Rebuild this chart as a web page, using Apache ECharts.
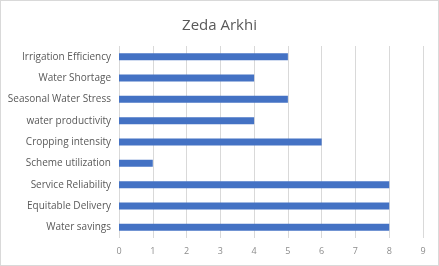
<!DOCTYPE html>
<html>
<head>
<meta charset="utf-8">
<script src="https://cdn.jsdelivr.net/npm/echarts@6/dist/echarts.min.js"></script>
<style>
  html, body { margin: 0; padding: 0; background: #fff; }
  #chart { width: 437px; height: 264px; border: 1px solid #d9d9d9; }
</style>
</head>
<body>
<div id="chart"></div>
<script>
// categories listed top to bottom
var categories = ['Irrigation Efficiency', 'Water Shortage', 'Seasonal Water Stress', 'water productivity',
  'Cropping intensity', 'Scheme utilization', 'Service Reliability', 'Equitable Delivery', 'Water savings'];
var values = [5, 4, 5, 4, 6, 1, 8, 8, 8];

var chart = echarts.init(document.getElementById('chart'));
chart.setOption({
  animation: false,
  title: {
    text: 'Zeda Arkhi',
    left: 'center',
    top: 12,
    textStyle: { fontFamily: 'Open Sans', fontSize: 15, fontWeight: 'normal', color: '#595959' }
  },
  grid: { left: 118, right: 15, top: 45, bottom: 27 },
  xAxis: {
    type: 'value',
    min: 0,
    max: 9,
    interval: 1,
    axisLine: { show: false },
    axisTick: { show: false },
    axisLabel: { fontFamily: 'Open Sans', fontSize: 9, color: '#8c8c8c', margin: 9 },
    splitLine: { lineStyle: { color: '#d9d9d9' } }
  },
  yAxis: {
    type: 'category',
    inverse: true,
    data: categories,
    axisLine: { show: false },
    axisTick: { show: false },
    axisLabel: { fontFamily: 'Open Sans', fontSize: 10, color: '#595959', margin: 8 }
  },
  series: [{
    type: 'bar',
    data: values,
    barWidth: 7,
    itemStyle: { color: '#4472c4' }
  }]
});
</script>
</body>
</html>
